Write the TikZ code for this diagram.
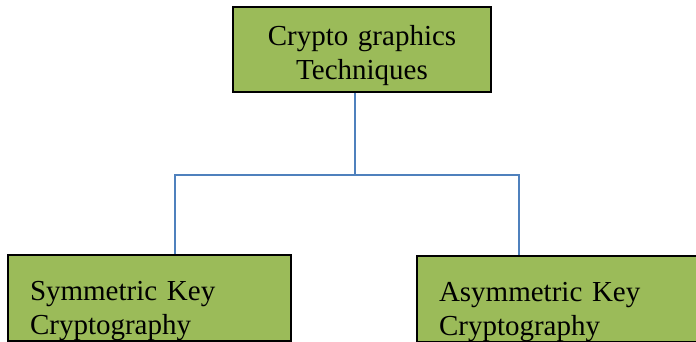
\documentclass[tikz,border=0pt]{standalone}
\usepackage{fontspec}
\setmainfont{Liberation Serif}
\definecolor{boxgreen}{HTML}{9BBB59}
\definecolor{wireblue}{HTML}{4F81BD}
\tikzset{
    box/.style={draw=black, line width=1.6pt, fill=boxgreen, inner ysep=0pt,
        font=\fontsize{29}{34}\selectfont},
    leaf/.style={box, text width=239pt, inner xsep=22pt, align=left},
    wire/.style={draw=wireblue, line width=1.4pt},
    % a tall strut on the first line pushes the text down a little
    drop/.style={execute at begin node={\rule{0pt}{#1}}}
}

\begin{document}
\begin{tikzpicture}[x=1pt, y=-1pt]
        \useasboundingbox (0,0) rectangle (696,342);
    % The three boxes.
        \node[box, drop=32pt, text width=230pt, inner xsep=14pt, minimum height=85pt, align=center] (tech) at (362,49.5) {Crypto graphics\\Techniques};
        \node[leaf, drop=46pt, minimum width=283pt, minimum height=86pt] (sym) at (149.5,298) {Symmetric Key\\Cryptography};
        \node[leaf, drop=46pt, minimum width=292pt, text width=248pt, minimum height=84pt] (asym) at (563,299) {Asymmetric Key\\Cryptography};
    % Below are the branch points of the tree.
        \coordinate (fork) at (355,175);
        \coordinate (jl) at (175,175);
        \coordinate (jr) at (519,175);
        \draw[wire] (fork |- tech.south) -- (fork);
        \draw[wire] (jl |- sym.north) -- (jl) -- (jr) -- (jr |- asym.north);
    \end{tikzpicture}
\end{document}
